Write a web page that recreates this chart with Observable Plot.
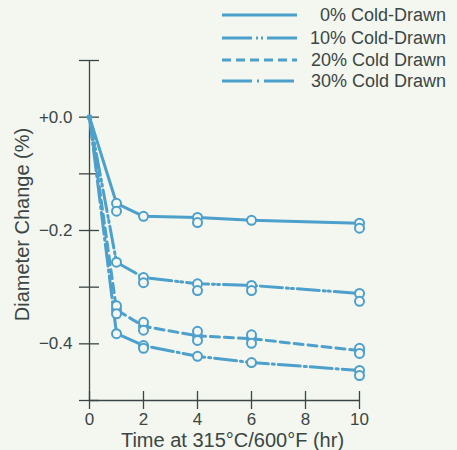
<!DOCTYPE html>
<html>
<head>
<meta charset="utf-8">
<script src="https://cdn.jsdelivr.net/npm/d3@7"></script>
<script src="https://cdn.jsdelivr.net/npm/@observablehq/plot@0.6"></script>
<style>
  html, body { margin: 0; padding: 0; background: #f3f7f0; }
  #wrap { position: relative; width: 457px; height: 450px; background: #f3f7f0; font-family: "Liberation Sans", Arial, Helvetica, sans-serif; }
  #legend { position: absolute; left: 0; top: 0; }
</style>
</head>
<body>
<div id="wrap"></div>
<script>
// ---- data ----
const seriesNames = ["0% Cold-Drawn", "10% Cold-Drawn", "20% Cold Drawn", "30% Cold Drawn"];
const hours = [0, 1, 2, 4, 6, 10];
// line values (% diameter change) per series at the hours above
const line0  = [0, -0.152, -0.175, -0.177, -0.182, -0.187];
const line10 = [0, -0.256, -0.283, -0.294, -0.297, -0.311];
const line20 = [0, -0.340, -0.369, -0.386, -0.391, -0.412];
const line30 = [0, -0.382, -0.403, -0.422, -0.433, -0.447];
// extra replicate measurements (hour, value)
const extra0  = [[1, -0.166], [4, -0.186], [10, -0.196]];
const extra10 = [[2, -0.292], [4, -0.306], [6, -0.306], [10, -0.325]];
const extra20 = [[1, -0.333], [1, -0.347], [2, -0.362], [2, -0.376], [4, -0.378], [4, -0.394], [6, -0.384], [6, -0.399], [10, -0.408], [10, -0.417]];
const extra30 = [[2, -0.408], [10, -0.456]];
const dashes = [null, "22,4,2,3,2,4", "9,5", "22,4,2,4"];
const legendDashes = [null, "30,4,2,3,2,4", "9,5", "30,5,2,5"];
const yTicks = [0.1, 0, -0.1, -0.2, -0.3, -0.4, -0.5];
const yLabelTicks = [0, -0.2, -0.4];
const xTicks = [0, 2, 4, 6, 8, 10];

// ---- build tables ----
const lineSets = [line0, line10, line20, line30];
const extraSets = [extra0, extra10, extra20, extra30];
const lines = lineSets.map((vals, i) => hours.map((h, j) => ({series: seriesNames[i], h, v: vals[j]})));
const points = [];
lineSets.forEach((vals, i) => hours.forEach((h, j) => { if (h > 0) points.push({series: seriesNames[i], h, v: vals[j]}); }));
extraSets.forEach((arr, i) => arr.forEach(([h, v]) => points.push({series: seriesNames[i], h, v})));

const blue = "#4d9fcc";
const ink = "#3b4644";
const bg = "#f3f7f0";
const font = "'Liberation Sans', Arial, Helvetica, sans-serif";

const marks = [
  Plot.ruleX([0], {stroke: ink, strokeWidth: 1.3}),
  Plot.ruleY([-0.5], {stroke: ink, strokeWidth: 1.3}),
  Plot.axisY({ticks: yTicks, tickSize: 20, dx: 10, text: null, stroke: ink, strokeWidth: 1.3, label: null}),
  Plot.axisY({ticks: yLabelTicks, tickSize: 0, tickPadding: 17, label: null, fontSize: 17, fill: ink,
    tickFormat: d => d === 0 ? "+0.0" : "\u2212" + Math.abs(d).toFixed(1)}),
  Plot.axisX({ticks: xTicks, tickSize: 18, dy: -9, text: null, stroke: ink, strokeWidth: 1.3, label: null}),
  Plot.axisX({ticks: xTicks, tickSize: 0, tickPadding: 12, label: null, fontSize: 17, fill: ink, tickFormat: d => String(d)}),
  Plot.text(["Diameter Change (%)"], {frameAnchor: "left", dx: -67, dy: -6, rotate: -90, textAnchor: "middle", fontSize: 20, fill: ink}),
  Plot.text(["Time at 315\u00B0C/600\u00B0F (hr)"], {frameAnchor: "bottom", dy: 46, dx: 8, fontSize: 20, fill: ink}),
  ...lines.map((data, i) => Plot.line(data, {x: "h", y: "v", stroke: blue, strokeWidth: 3, strokeDasharray: dashes[i]})),
  Plot.dot(points, {x: "h", y: "v", r: 4.5, stroke: blue, strokeWidth: 2, fill: bg}),
  Plot.dot([{h: 0, v: 0}], {x: "h", y: "v", r: 3, fill: blue})
];

const chart = Plot.plot({
  width: 457,
  height: 450,
  marginLeft: 89,
  marginRight: 98,
  marginTop: 60,
  marginBottom: 50,
  style: {background: bg, fontFamily: font, color: ink},
  x: {domain: [0, 10]},
  y: {domain: [-0.5, 0.1]},
  marks
});
document.getElementById("wrap").appendChild(chart);

// ---- legend (overlay at top right) ----
const leg = d3.select("#wrap").append("svg").attr("id", "legend")
  .attr("width", 457).attr("height", 95);
const rowY = [15, 38, 60, 81];
seriesNames.forEach((name, i) => {
  leg.append("line").attr("x1", 222).attr("x2", 297).attr("y1", rowY[i]).attr("y2", rowY[i])
    .attr("stroke", blue).attr("stroke-width", 3).attr("stroke-dasharray", legendDashes[i]);
  leg.append("text").attr("x", 446).attr("y", rowY[i]).attr("dy", "0.36em")
    .attr("text-anchor", "end").attr("font-size", 18).attr("fill", ink)
    .attr("font-family", font).text(name);
});
</script>
</body>
</html>
